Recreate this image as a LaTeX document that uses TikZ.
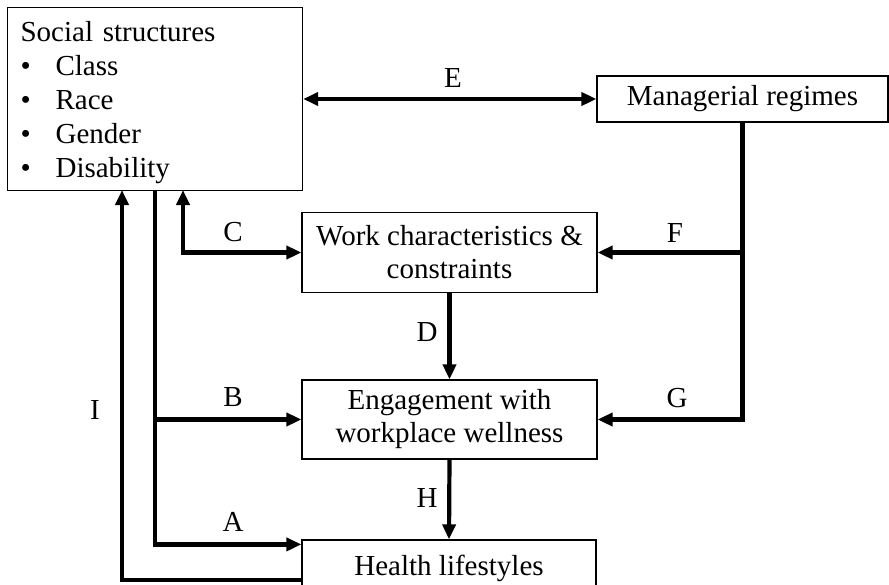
\documentclass[tikz,border=0pt]{standalone}
\usepackage{fontspec}
\setmainfont{Liberation Serif}
\usetikzlibrary{arrows.meta,positioning,calc}

\begin{document}
\begin{tikzpicture}[
  x=1pt, y=-1pt,
  box/.style={rectangle, draw, line width=1.2pt, align=center, font=\fontsize{29}{33}\selectfont, inner sep=0pt},
  arrow/.style={-{Triangle[length=15pt, width=13pt]}, line width=4.2pt},
  twoway/.style={{Triangle[length=15pt, width=13pt]}-{Triangle[length=15pt, width=13pt]}, line width=4.2pt},
  tag/.style={font=\fontsize{29}{33}\selectfont, inner sep=0pt},
]
\useasboundingbox (0,0) rectangle (889,584);

% === BOXES ===
\node[box, anchor=north west, align=left, text width=269pt, inner xsep=13pt, minimum width=295pt, minimum height=183pt,
      font=\fontsize{29}{34}\selectfont] (social) at (7,7)
  {\rule{0pt}{28pt}Social structures\\
   \makebox[35pt][l]{\textbullet}Class\\
   \makebox[35pt][l]{\textbullet}Race\\
   \makebox[35pt][l]{\textbullet}Gender\\
   \makebox[35pt][l]{\textbullet}Disability};

\node[box, minimum width=291pt, minimum height=46pt] (manage) at (742.5,99) {Managerial regimes};

\node[box, minimum width=295pt, minimum height=80pt] (work) at (449.5,252.5) {Work characteristics \&\\constraints};

\node[box, minimum width=295pt, minimum height=79pt] (engage) at (449.5,419.5) {Engagement with\\workplace wellness};

\node[box, minimum width=294pt, minimum height=50pt, text depth=0pt] (health) at (449,565) {Health lifestyles};

% free ends under the social box
\coordinate (itop) at (122,190);
\coordinate (abtop) at (155,190);
\coordinate (ctop) at (183,190);

% === CONNECTORS ===
\draw[twoway] (social.east |- manage.west) -- (manage.west);
\draw[arrow] (manage.south) |- (engage.east);
\draw[arrow] (manage.south |- work.east) -- (work.east);
\draw[twoway] (ctop) |- (work.west);
\draw[arrow] (abtop) |- ([yshift=-5pt]health.north west);
\draw[arrow] (abtop |- engage.west) -- (engage.west);
\draw[arrow] ([yshift=-15pt]health.west) -| (itop);
\draw[arrow] (work.south) -- (engage.north);
\draw[arrow] (engage.south) -- (health.north);

% === LETTERS ===
\node[tag] (le) at (453,78) {E};
\node[tag] (lf) at (675,233) {F};
\node[tag] (lg) at (677,398) {G};
\node[tag] (lc) at (233,232) {C};
\node[tag] (lb) at (233,397) {B};
\node[tag] (la) at (233,522) {A};
\node[tag] (ld) at (427,332) {D};
\node[tag] (lh) at (427,498) {H};
\node[tag] (li) at (95,410) {I};
\end{tikzpicture}
\end{document}
